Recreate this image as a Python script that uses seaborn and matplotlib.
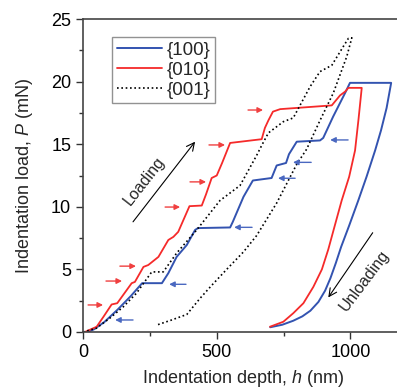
import matplotlib
matplotlib.use("Agg")
import matplotlib.pyplot as plt
import seaborn as sns
import pandas as pd
from matplotlib.ticker import MultipleLocator

# {100} loading + unloading (depth nm, load mN)
h_100 = [15, 40, 80, 130, 180, 221, 295, 319, 350, 388, 419, 430, 550, 560, 600, 635,
         705, 724, 759, 770, 799, 886, 898, 935, 980, 998, 1152,
         1135, 1114, 1092, 1060, 1029, 995, 965, 945, 925, 905, 880, 850, 820, 786, 745, 700]
p_100 = [0, 0.2, 0.8, 1.8, 2.9, 3.9, 3.9, 4.7, 6.0, 6.95, 8.15, 8.3, 8.35, 8.8, 10.8, 12.1,
         12.3, 13.3, 13.5, 14.2, 15.2, 15.3, 15.5, 17.2, 19.1, 19.9, 19.9,
         17.9, 16.1, 14.5, 12.4, 10.5, 8.5, 6.8, 5.5, 4.3, 3.3, 2.4, 1.7, 1.25, 0.9, 0.58, 0.38]

# {010}
h_010 = [7, 51, 76, 107, 128, 182, 194, 226, 244, 282, 319, 338, 356, 398, 444, 460, 481,
         500, 520, 550, 668, 680, 693, 710, 737, 930, 961, 980, 992, 1042,
         1030, 1017, 995, 967, 940, 917, 893, 861, 824, 786, 749, 699]
p_010 = [0, 0.42, 1.2, 2.2, 2.3, 3.9, 4.0, 5.2, 5.35, 6.0, 7.35, 7.6, 8.0, 10.05, 10.1, 11.0, 12.3,
         12.5, 13.5, 15.1, 15.4, 16.3, 16.9, 17.6, 17.8, 18.1, 18.9, 19.2, 19.5, 19.5,
         17.0, 14.5, 12.4, 10.5, 8.4, 6.6, 5.0, 3.6, 2.3, 1.5, 0.82, 0.42]

# {001}
h_001 = [0, 50, 100, 150, 200, 230, 257, 300, 350, 425, 512, 562, 587, 649, 668, 693, 749,
         786, 849, 886, 930, 973, 992, 1005,
         986, 936, 886, 836, 799, 724, 649, 600, 537, 480, 438, 388, 330, 275]
p_001 = [0, 0.3, 1.1, 2.0, 3.1, 4.0, 4.8, 4.8, 6.3, 8.15, 10.5, 11.3, 11.7, 14.1, 14.9, 15.9, 16.8,
         17.1, 19.6, 20.8, 21.3, 22.8, 23.45, 23.5,
         22.0, 19.1, 16.9, 14.6, 13.4, 10.3, 7.7, 6.4, 5.0, 3.7, 2.7, 1.4, 0.95, 0.55]

# pop-in markers: (tail h, head h, load)
red_arrows = [(19, 75, 2.16), (86, 146, 4.07), (138, 198, 5.26), (307, 363, 9.98),
              (400, 460, 11.99), (471, 531, 14.94), (617, 673, 17.73)]
blue_arrows = [(187, 120, 0.96), (385, 322, 3.81), (632, 565, 8.36), (793, 729, 12.28),
               (853, 785, 13.55), (991, 924, 15.34)]

sns.set_style("ticks")
plt.rcParams["font.family"] = ["Liberation Sans", "DejaVu Sans"]
plt.rcParams["mathtext.fontset"] = "custom"
plt.rcParams["mathtext.it"] = "Liberation Sans:italic"
plt.rcParams["mathtext.rm"] = "Liberation Sans"

fig = plt.figure(figsize=(3.97, 3.91), dpi=100)
ax = fig.add_axes([83 / 397, 59 / 391, 321 / 397, 313 / 391])

blue = "#3353b0"
red = "#f52a2a"

df100 = pd.DataFrame({"h": h_100, "P": p_100})
df010 = pd.DataFrame({"h": h_010, "P": p_010})
df001 = pd.DataFrame({"h": h_001, "P": p_001})

sns.lineplot(data=df100, x="h", y="P", sort=False, estimator=None, color=blue, lw=1.4,
             label="{100}", ax=ax)
sns.lineplot(data=df010, x="h", y="P", sort=False, estimator=None, color=red, lw=1.3,
             label="{010}", ax=ax)
sns.lineplot(data=df001, x="h", y="P", sort=False, estimator=None, color="black", lw=1.2,
             linestyle=(0, (1, 1.6)), label="{001}", ax=ax)

for t, hd, p in red_arrows:
    ax.annotate("", xy=(hd, p), xytext=(t, p),
                arrowprops=dict(arrowstyle="-|>", color="#f04040", lw=1.0, mutation_scale=8,
                                shrinkA=0, shrinkB=0))
for t, hd, p in blue_arrows:
    ax.annotate("", xy=(hd, p), xytext=(t, p),
                arrowprops=dict(arrowstyle="-|>", color="#4a68c0", lw=1.0, mutation_scale=8,
                                shrinkA=0, shrinkB=0))

ax.annotate("", xy=(419, 15.2), xytext=(187, 8.8),
            arrowprops=dict(arrowstyle="->", color="black", lw=0.8, mutation_scale=14,
                            shrinkA=0, shrinkB=0))
ax.annotate("", xy=(917, 2.76), xytext=(1083, 7.93),
            arrowprops=dict(arrowstyle="->", color="black", lw=0.8, mutation_scale=14,
                            shrinkA=0, shrinkB=0))
ax.text(228, 12.1, "Loading", rotation=52, ha="center", va="center", fontsize=11.5)
ax.text(1051, 4.1, "Unloading", rotation=53, ha="center", va="center", fontsize=11.5)

ax.set_xlim(0, 1200)
ax.set_ylim(0, 25)
ax.xaxis.set_major_locator(MultipleLocator(500))
ax.xaxis.set_minor_locator(MultipleLocator(250))
ax.yaxis.set_major_locator(MultipleLocator(5))
ax.yaxis.set_minor_locator(MultipleLocator(2.5))
ax.tick_params(which="major", length=5, width=1, labelsize=13, colors="#333333",
               labelcolor="black")
ax.tick_params(which="minor", length=3, width=1, colors="#333333")
for s in ax.spines.values():
    s.set_visible(True)
    s.set_color("#444444")
    s.set_linewidth(1.2)

ax.set_xlabel("Indentation depth, $\\mathit{h}$ (nm)", fontsize=13)
ax.set_ylabel("Indentation load, $\\mathit{P}$ (mN)", fontsize=13)
ax.xaxis.set_label_coords(0.497, -0.115)
ax.yaxis.set_label_coords(-0.15, 0.5)

leg = ax.legend(loc="upper left", bbox_to_anchor=(0.09, 0.943), fontsize=13.5,
                handlelength=2.4, frameon=True, fancybox=False, borderpad=0.25,
                labelspacing=0.15, handletextpad=0.25, borderaxespad=0)
leg.get_frame().set_edgecolor("#777777")
leg.get_frame().set_linewidth(1.0)

fig.savefig("out.png", dpi=100)
